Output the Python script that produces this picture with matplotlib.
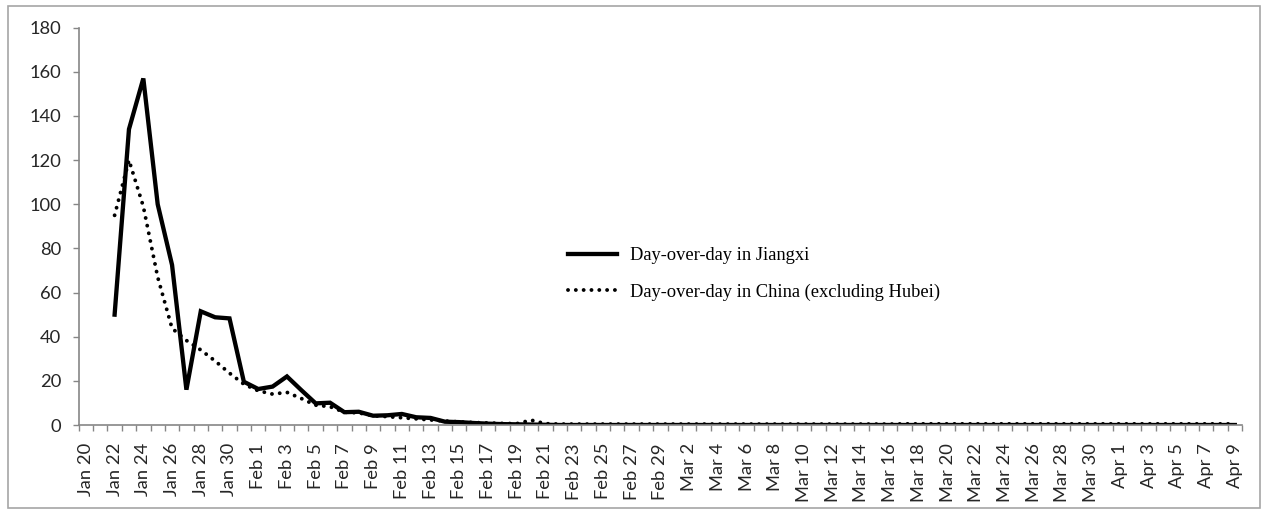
import matplotlib
matplotlib.use('Agg')
import matplotlib.pyplot as plt
from matplotlib.patches import Rectangle
import numpy

nan = numpy.nan

# one category per day, Jan 20 .. Apr 9 (2020)
day_labels = (
    [f'Jan {d}' for d in range(20, 32)]
    + [f'Feb {d}' for d in range(1, 30)]
    + [f'Mar {d}' for d in range(1, 32)]
    + [f'Apr {d}' for d in range(1, 10)]
)

# day-over-day growth (%)
jiangxi = [
    nan, nan, 50, 134, 157, 100, 72.5, 16, 51.5, 48.8, 48.3, 19.6,    # Jan 20-31
    16.3, 17.4, 22, 15.8, 9.8, 10.1, 5.8, 6.0, 4.2, 4.4, 5.0, 3.5,    # Feb 1-12
    3.2, 1.5, 1.3, 0.9, 0.6, 0.4, 0.3, 0.2, 0.1, 0, 0, 0,             # Feb 13-24
    0, 0, 0, 0, 0,                                                    # Feb 25-29
    0, 0, 0, 0, 0, 0, 0, 0, 0, 0, 0, 0, 0, 0, 0, 0,                   # Mar 1-16
    0, 0, 0, 0, 0, 0, 0, 0, 0, 0, 0, 0, 0, 0, 0,                      # Mar 17-31
    0, 0, 0, 0, 0, 0, 0, 0, 0,                                        # Apr 1-9
]
china_ex_hubei = [
    nan, nan, 95, 120, 99, 67, 43.8, 38.3, 34, 29, 23.5, 18.5,        # Jan 20-31
    15.5, 14, 14.8, 12, 9, 8.3, 5.8, 5.5, 4.2, 3.8, 3.3, 2.8,         # Feb 1-12
    2.3, 1.8, 1.4, 1.1, 0.9, 0.7, 0.6, 2.2, 0.6, 0.4, 0.4, 0.4,       # Feb 13-24
    0.4, 0.4, 0.4, 0.4, 0.4,                                          # Feb 25-29
    0.4, 0.4, 0.4, 0.4, 0.4, 0.4, 0.4, 0.4, 0.4, 0.4, 0.4, 0.4,       # Mar 1-12
    0.4, 0.4, 0.4, 0.4, 0.5, 0.5, 0.5, 0.5, 0.5, 0.5, 0.5, 0.5,       # Mar 13-24
    0.5, 0.5, 0.5, 0.5, 0.5, 0.5, 0.5,                                # Mar 25-31
    0.5, 0.5, 0.5, 0.5, 0.5, 0.5, 0.5, 0.5, 0.5,                      # Apr 1-9
]
series_labels = ['Day-over-day in Jiangxi', 'Day-over-day in China (excluding Hubei)']

W, H = 1265, 514
fig = plt.figure(figsize=(W / 100, H / 100), dpi=100)
ax = fig.add_axes([78.7 / W, 1 - 425 / H, (1242 - 78.7) / W, (425 - 27.7) / H])

# gray frame around the whole chart
fig.patches.append(Rectangle((8 / W, 1 - 508 / H), (1260 - 8) / W, (508 - 6) / H,
                             transform=fig.transFigure, fill=False,
                             edgecolor='#a6a6a6', linewidth=1.2))

x = numpy.arange(len(day_labels))
ax.plot(x, jiangxi, color='black', linewidth=3.1, solid_joinstyle='miter',
        label=series_labels[0])
ax.plot(x, china_ex_hubei, color='black', linewidth=2.8,
        linestyle=(0, (0.01, 2.0)), dash_capstyle='round',
        label=series_labels[1])

ax.set_xlim(-0.5, len(day_labels) - 0.5)
ax.set_ylim(0, 180)
ax.set_yticks(range(0, 181, 20))

gray = '#868686'
for side in ('top', 'right'):
    ax.spines[side].set_visible(False)
for side in ('left', 'bottom'):
    ax.spines[side].set_color(gray)
    ax.spines[side].set_linewidth(1.2)

tick_font = dict(family=['Lato', 'DejaVu Sans'], size=13.2, color='#262626')
ax.tick_params(axis='y', direction='out', length=4.5, width=1, color=gray, pad=8)
for lab in ax.get_yticklabels():
    lab.set(**tick_font)

# labels on every second day, ticks between the categories
ax.set_xticks(x[::2])
ax.set_xticklabels(day_labels[::2], rotation=90, **tick_font)
ax.set_xticks(numpy.arange(-0.5, len(day_labels), 1.0), minor=True)
ax.tick_params(axis='x', which='major', length=0, pad=13)
ax.tick_params(axis='x', which='minor', direction='out', length=4.5, width=1, color=gray)

ax.legend(loc='upper left', bbox_to_anchor=(568 / W, 1 - 247 / H),
          bbox_transform=fig.transFigure, frameon=False,
          prop={'family': ['Liberation Serif', 'DejaVu Serif'], 'size': 13.3},
          handlelength=2.65, handletextpad=0.7, labelspacing=1.05,
          borderpad=0, borderaxespad=0)

fig.savefig('out.png', dpi=100)
